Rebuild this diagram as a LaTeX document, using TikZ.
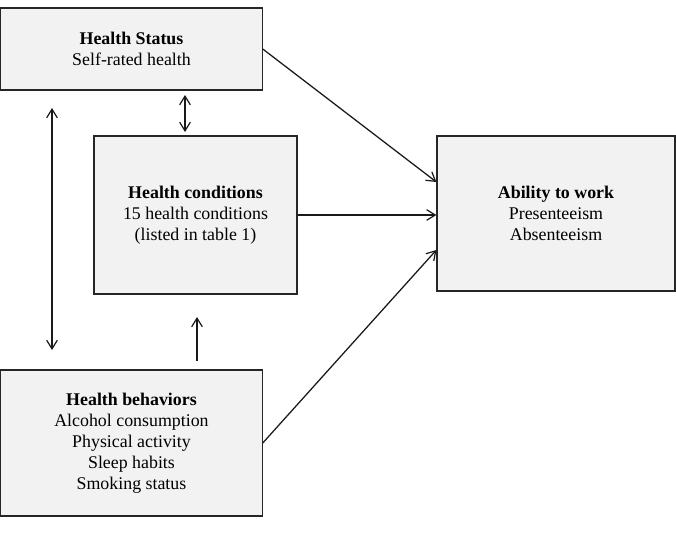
\documentclass[tikz,border=0pt]{standalone}
\usepackage{fontspec}
\setmainfont{Liberation Serif}
\usetikzlibrary{arrows.meta}
\begin{document}
\begin{tikzpicture}[x=0.75pt,y=-0.75pt,
  box/.style={draw=black!85,line width=0.9pt,fill=black!5,align=center,inner sep=0pt,
    font=\fontsize{13.4}{15.75}\selectfont},
  tip/.style={Straight Barb[length=6.5pt,width=8pt,line width=0.9pt]},
  conn/.style={draw=black!90,line width=0.95pt,-{Straight Barb[length=6.5pt,width=8pt,line width=0.9pt]}},
  dbl/.style={draw=black!90,line width=0.95pt,{Straight Barb[length=6.5pt,width=8pt,line width=0.9pt]}-{Straight Barb[length=6.5pt,width=8pt,line width=0.9pt]}}]
\useasboundingbox (0,0) rectangle (676,536);
\node[box,minimum width=196pt,minimum height=61.5pt] (hs) at (131.5,49) {\textbf{Health Status}\\Self-rated health};
\node[box,minimum width=152.25pt,minimum height=118.5pt] (hc) at (195.5,215) {\textbf{Health conditions}\\15 health conditions\\(listed in table 1)};
\node[box,minimum width=178.5pt,minimum height=116.25pt] (aw) at (556,213.5) {\textbf{Ability to work}\\Presenteeism\\Absenteeism};
\node[box,minimum width=196pt,minimum height=109.5pt] (hb) at (131.5,443) {\textbf{Health behaviors}\\Alcohol consumption\\Physical activity\\Sleep habits\\Smoking status};
\coordinate (d1a) at (185,95);
\coordinate (d1b) at (185,132);
\coordinate (d2a) at (52,108);
\coordinate (d2b) at (52,350);
\coordinate (u1a) at (197,361);
\coordinate (u1b) at (197,317);
\coordinate (aw1) at (aw.west |- 0,182);
\coordinate (aw3) at (aw.west |- 0,250);
\draw[dbl] (d1a) -- (d1b);
\draw[dbl] (d2a) -- (d2b);
\draw[conn] (u1a) -- (u1b);
\draw[conn] (hs.east) -- (aw1);
\draw[conn] (hc.east) -- (aw.west |- hc.east);
\draw[conn] (hb.east) -- (aw3);
\end{tikzpicture}
\end{document}
